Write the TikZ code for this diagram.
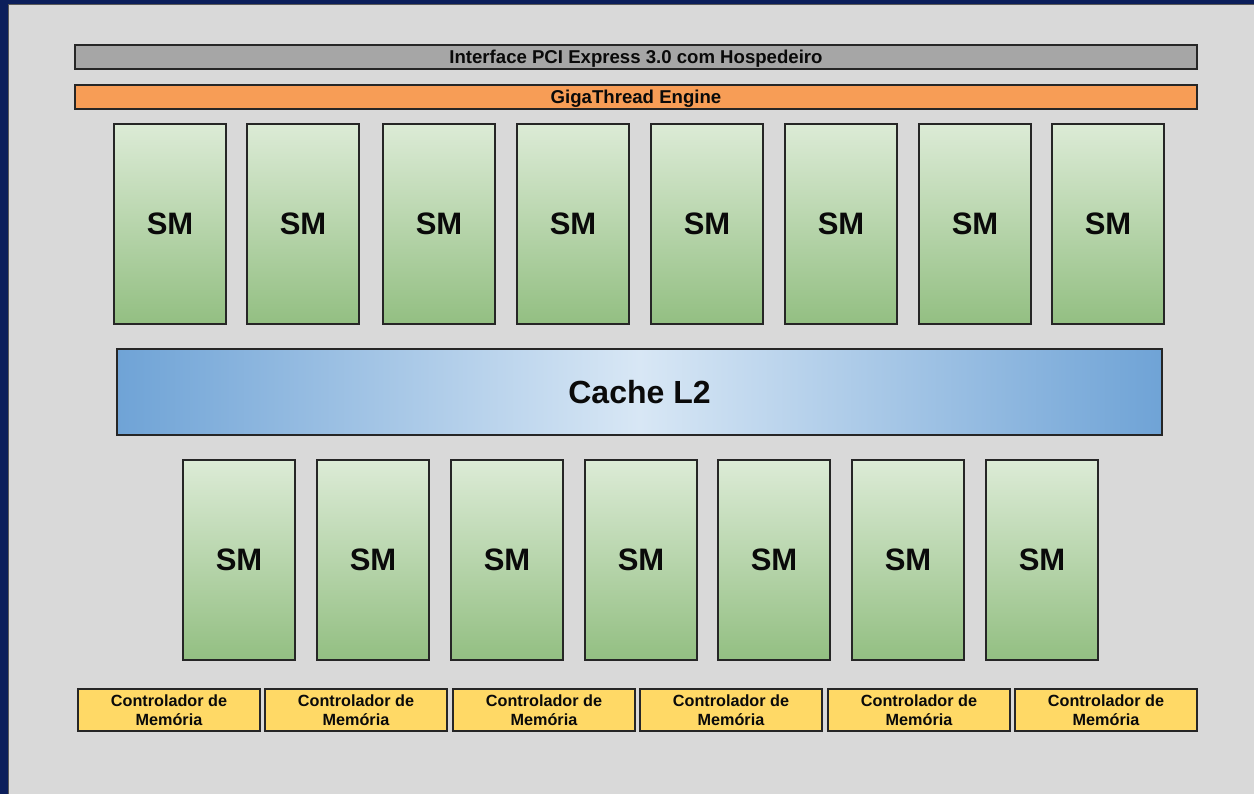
\documentclass[tikz,border=0pt]{standalone}
\usepackage{fontspec}
\setmainfont{Liberation Sans}
\usetikzlibrary{shadings}
\definecolor{frameblue}{HTML}{0B1E5B}
\definecolor{panel}{HTML}{D9D9D9}
\definecolor{edge}{HTML}{262626}
\definecolor{pcigray}{HTML}{A6A6A6}
\definecolor{gigaorange}{HTML}{F79D56}
\definecolor{smtop}{HTML}{DCEBD6}
\definecolor{smbot}{HTML}{93BF82}
\definecolor{l2edge}{HTML}{6FA3D6}
\definecolor{l2mid}{HTML}{D8E7F5}
\definecolor{mcyellow}{HTML}{FFD966}
\definecolor{ink}{HTML}{0A0A0A}
\tikzset{
  block/.style={draw=edge, line width=1.3bp, inner sep=0pt, text=ink, font=\bfseries},
  bar/.style={block, minimum width=1122bp, minimum height=24bp, text depth=0pt,
    font=\fontsize{18.6bp}{20bp}\selectfont\bfseries},
  smbox/.style={block, minimum width=112bp, minimum height=200bp,
    top color=smtop, bottom color=smbot, font=\fontsize{31bp}{34bp}\selectfont\bfseries},
  l2box/.style={block, minimum width=1045bp, minimum height=86bp,
    left color=l2edge, right color=l2edge, middle color=l2mid,
    font=\fontsize{32bp}{36bp}\selectfont\bfseries},
  mcbox/.style={block, fill=mcyellow, minimum width=182bp, minimum height=42bp,
    align=center, font=\fontsize{16.2bp}{19bp}\selectfont\bfseries},
}
\begin{document}
\begin{tikzpicture}[x=1bp, y=-1bp]
  % slide frame and panel
  \useasboundingbox (0,0) rectangle (1254,794);
  \fill[frameblue] (0,0) rectangle (1254,794);
  \fill[panel] (8,4) rectangle (1254,794);
  \draw[gray!70!black, line width=1bp] (8.5,794) -- (8.5,4.5) -- (1254,4.5);

  % host interface and scheduler bars
  \node[bar, fill=pcigray] (pci) at (636,57) {Interface PCI Express 3.0 com Hospedeiro};
  \node[bar, fill=gigaorange] (giga) at (636,97) {GigaThread Engine};

  % upper row of streaming multiprocessors
  \foreach \x [count=\i] in {170,303,439,573,707,841,975,1108}
    \node[smbox] (smT\i) at (\x,224) {SM};

  % shared L2 cache
  \node[l2box] (l2) at (639.5,392) {Cache L2};

  % lower row of streaming multiprocessors
  \foreach \x [count=\i] in {239,373,507,641,774,908,1042}
    \node[smbox] (smB\i) at (\x,560) {SM};

  % memory controllers
  \foreach \x [count=\i] in {169,356,544,731,919,1106}
    \node[mcbox] (mc\i) at (\x,710) {Controlador de\\Memória};
\end{tikzpicture}
\end{document}
